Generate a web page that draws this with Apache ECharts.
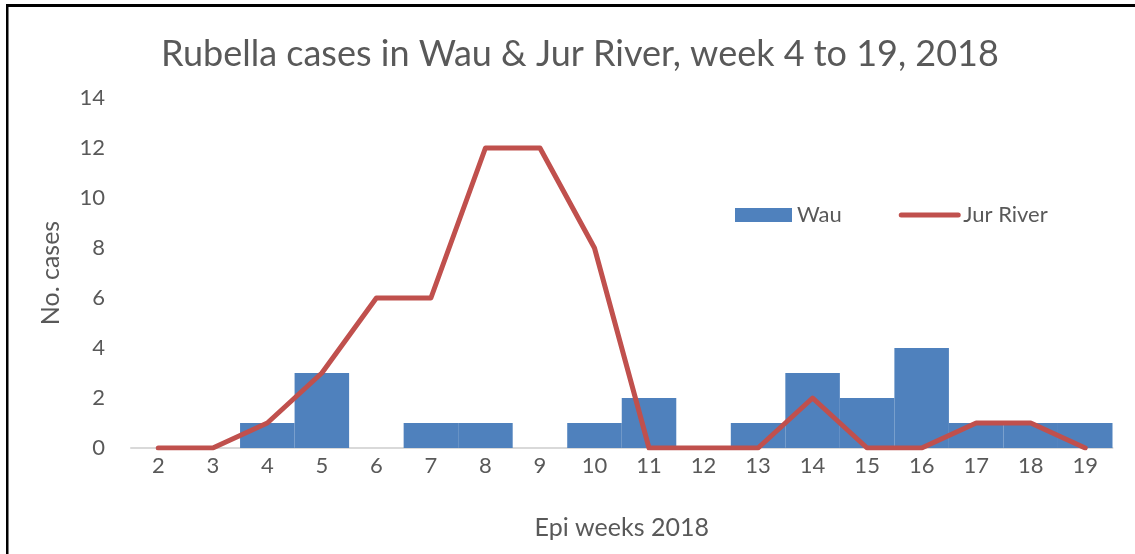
<!DOCTYPE html>
<html>
<head>
<meta charset="utf-8">
<script src="https://cdn.jsdelivr.net/npm/echarts@6/dist/echarts.min.js"></script>
<style>
  html, body { margin: 0; padding: 0; background: #fff; }
  #main { width: 1135px; height: 554px; }
</style>
</head>
<body>
<div id="main"></div>
<script>
// epi weeks on the x axis
var weeks = ['2','3','4','5','6','7','8','9','10','11','12','13','14','15','16','17','18','19'];
// cases per week
var wau = [0,0,1,3,0,1,1,0,1,2,0,1,3,2,4,1,1,1];
var jurRiver = [0,0,1,3,6,6,12,12,8,0,0,0,2,0,0,1,1,0];

var fontName = 'Lato';
var grey = '#595959';

var myChart = echarts.init(document.getElementById('main'));

var option = {
  backgroundColor: '#fff',
  textStyle: { fontFamily: fontName },
  title: {
    text: 'Rubella cases in Wau & Jur River, week 4 to 19, 2018',
    left: 575,
    top: 31,
    textAlign: 'center',
    textStyle: { color: grey, fontSize: 36, fontWeight: 'normal', fontFamily: fontName }
  },
  legend: {
    left: 730,
    top: 199,
    itemWidth: 57,
    itemHeight: 14,
    itemGap: 57,
    textStyle: { color: grey, fontSize: 22, fontFamily: fontName },
    data: [
      { name: 'Wau', icon: 'rect' },
      { name: 'Jur River', itemStyle: { opacity: 0 }, lineStyle: { width: 5, cap: 'round', color: '#c0504d' } }
    ]
  },
  grid: { left: 131, right: 22.5, top: 98, bottom: 106 },
  xAxis: {
    type: 'category',
    data: weeks,
    boundaryGap: true,
    name: 'Epi weeks 2018',
    nameLocation: 'middle',
    nameGap: 67,
    nameTextStyle: { color: grey, fontSize: 25, fontFamily: fontName },
    axisLine: { show: true, lineStyle: { color: '#d9d9d9', width: 2 } },
    axisTick: { show: false },
    axisLabel: { color: grey, fontSize: 22, margin: 7, fontFamily: fontName }
  },
  yAxis: {
    type: 'value',
    min: 0,
    max: 14,
    interval: 2,
    name: 'No. cases',
    nameLocation: 'middle',
    nameRotate: 90,
    nameGap: 68,
    nameTextStyle: { color: grey, fontSize: 25, fontFamily: fontName },
    axisLine: { show: false },
    axisTick: { show: false },
    splitLine: { show: false },
    axisLabel: { color: grey, fontSize: 22, margin: 26, fontFamily: fontName }
  },
  graphic: [
    { type: 'rect', shape: { x: 6, y: 4, width: 1129, height: 3 }, style: { fill: '#000' }, z: 100 },
    { type: 'rect', shape: { x: 6, y: 4, width: 2.5, height: 550 }, style: { fill: '#000' }, z: 100 }
  ],
  series: [
    {
      name: 'Wau',
      type: 'bar',
      data: wau,
      barCategoryGap: '0%',
      itemStyle: { color: '#4f81bd' }
    },
    {
      name: 'Jur River',
      type: 'line',
      data: jurRiver,
      symbol: 'none',
      lineStyle: { color: '#c0504d', width: 5, cap: 'round', join: 'round' },
      itemStyle: { color: '#c0504d' }
    }
  ]
};

myChart.setOption(option);
</script>
</body>
</html>
